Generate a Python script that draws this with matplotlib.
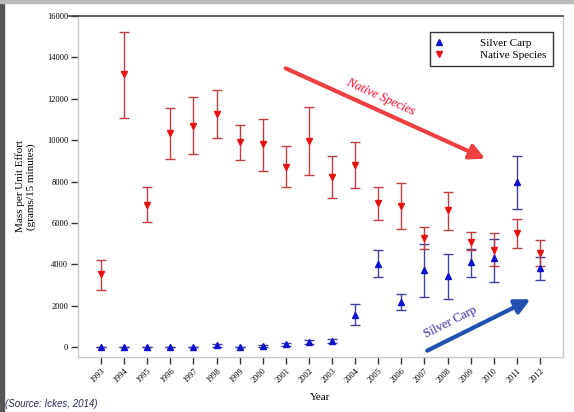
import matplotlib
matplotlib.use("Agg")
import matplotlib.pyplot as plt
from matplotlib.lines import Line2D
import matplotlib.patheffects as pe
import numpy as np

years = list(range(1993, 2013))

carp_mean = [20, 20, 20, 25, 30, 90, 30, 60, 140, 250, 300, 1550, 4010, 2190, 3720, 3430, 4120, 4290, 7990, 3850]
carp_low = [20, 20, 20, 25, 30, 30, 30, 10, 80, 170, 210, 1060, 3370, 1790, 2430, 2350, 3400, 3160, 6670, 3270]
carp_high = [20, 20, 20, 25, 30, 150, 30, 110, 200, 330, 390, 2080, 4690, 2590, 5010, 4500, 4770, 5250, 9250, 4370]

native_mean = [3530, 13180, 6860, 10330, 10700, 11260, 9900, 9800, 8720, 9950, 8230, 8800, 6950, 6820, 5300, 6620, 5090, 4720, 5500, 4530]
native_low = [2760, 11090, 6040, 9090, 9330, 10090, 9040, 8510, 7750, 8300, 7190, 7670, 6140, 5690, 4770, 5660, 4720, 3930, 4800, 3920]
native_high = [4200, 15240, 7720, 11540, 12070, 12420, 10730, 11040, 9720, 11620, 9250, 9900, 7720, 7950, 5820, 7510, 5580, 5540, 6190, 5170]

y_ticks = [0, 2000, 4000, 6000, 8000, 10000, 12000, 14000, 16000]

serif = "Liberation Serif"

fig = plt.figure(figsize=(5.74, 4.12), dpi=100)
fig.patch.set_facecolor("white")
ax = fig.add_axes([78/574, 1-357/412, 485/574, 341/412])

x = np.array(years)
cm = np.array(carp_mean); cl = np.array(carp_low); ch = np.array(carp_high)
nm = np.array(native_mean); nl = np.array(native_low); nh = np.array(native_high)

ax.errorbar(x, cm, yerr=[cm-cl, ch-cm], fmt="none", ecolor="#4040a0",
            elinewidth=1.0, capsize=3.6, capthick=1.0, zorder=2)
ax.plot(x, cm, linestyle="none", marker="^", markersize=4.5, color="#1010d0", zorder=3)
ax.errorbar(x, nm, yerr=[nm-nl, nh-nm], fmt="none", ecolor="#c04040",
            elinewidth=1.0, capsize=3.6, capthick=1.0, zorder=2)
ax.plot(x, nm, linestyle="none", marker="v", markersize=4.5, color="#e81010", zorder=4)

ax.set_xlim(1992, 2013)
ax.set_ylim(-470, 16000)
ax.set_xticks(years)
ax.set_xticklabels([str(y) for y in years], rotation=45, ha="right",
                   rotation_mode="anchor", fontsize=6, family=serif)
ax.set_yticks(y_ticks)
ax.set_yticklabels([str(v) for v in y_ticks], fontsize=6, family=serif)
ax.tick_params(axis="both", direction="out", length=5, width=1, color="#333333", pad=2)

for s in ["left", "right", "bottom"]:
    ax.spines[s].set_color("#c8c8c8")
    ax.spines[s].set_linewidth(1.0)
ax.spines["top"].set_color("#444444")
ax.spines["top"].set_linewidth(1.2)
ax.plot([-0.018, 0], [1, 1], transform=ax.transAxes, color="#444444", lw=1.2, clip_on=False)

ax.set_ylabel("Mass per Unit Effort\n(grams/15 minutes)", fontsize=8, family=serif, labelpad=8)
ax.set_xlabel("Year", fontsize=8, family=serif, labelpad=6)

handles = [Line2D([], [], linestyle="none", marker="^", markersize=4, color="#1010d0"),
           Line2D([], [], linestyle="none", marker="v", markersize=4, color="#e81010")]
leg = ax.legend(handles, ["Silver Carp", "Native Species"], loc="upper right",
                bbox_to_anchor=(0.979, 0.952), prop={"family": serif, "size": 8},
                handlelength=0.6, handletextpad=3.4, labelspacing=0.15,
                borderpad=0.55, borderaxespad=0.0,
                fancybox=False, framealpha=1, edgecolor="#333333")
leg.get_frame().set_linewidth(1.0)

# trend arrows
ax.annotate("", xy=(0.845, 0.578), xytext=(0.423, 0.850), xycoords="axes fraction",
            arrowprops=dict(arrowstyle="-|>,head_length=0.9,head_width=0.45",
                            color="#ee4040", lw=3))
ax.text(0.625, 0.762, "Native Species", transform=ax.transAxes, rotation=-24.4,
        ha="center", va="center", color="#f03030", fontsize=9, family=serif,
        style="italic",
        path_effects=[pe.withStroke(linewidth=1.0, foreground="#fbd8f0")])
ax.annotate("", xy=(0.938, 0.173), xytext=(0.715, 0.015), xycoords="axes fraction",
            arrowprops=dict(arrowstyle="-|>,head_length=0.9,head_width=0.45",
                            color="#2050b0", lw=3))
ax.text(0.767, 0.102, "Silver Carp", transform=ax.transAxes, rotation=26.6,
        ha="center", va="center", color="#3050c0", fontsize=9, family=serif,
        path_effects=[pe.withStroke(linewidth=1.0, foreground="#f6dce8")])

fig.text(5/574, 1-404/412, "(Source: Ickes, 2014)", fontsize=7, style="italic",
         family="Liberation Sans", color="#22305a", va="center", ha="left")

# image border strips
fig.patches.append(plt.Rectangle((0, 0), 4/574, 1, transform=fig.transFigure,
                                 color="#555555", zorder=10))
fig.patches.append(plt.Rectangle((0, 1-3/412), 1, 3/412, transform=fig.transFigure,
                                 color="#bbbbbb", zorder=10))

fig.savefig("out.png", dpi=100)
